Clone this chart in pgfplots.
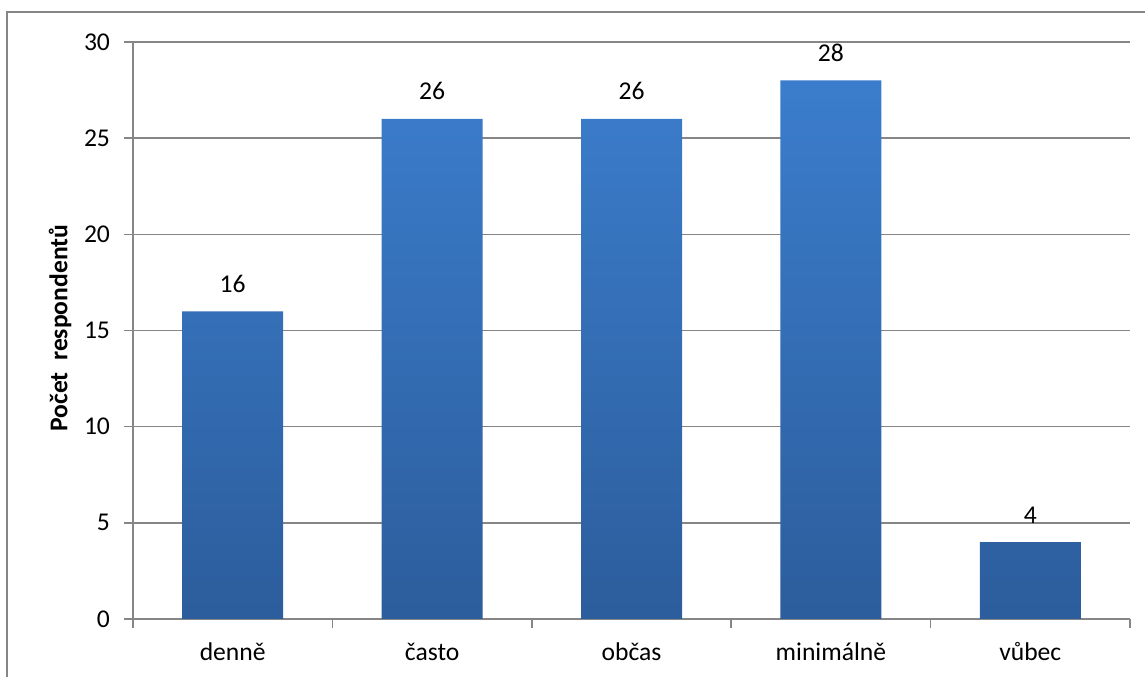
\documentclass[border=0pt]{standalone}
\usepackage{fontspec}
\setmainfont{Carlito}
\usepackage{pgfplots}
\pgfplotsset{compat=1.18}
\definecolor{gridgray}{RGB}{134,134,134}
\definecolor{bartop}{RGB}{59,125,204}
\definecolor{barbot}{RGB}{44,93,156}
\newcommand{\chartfont}{\fontsize{12.8bp}{15bp}\selectfont}
\begin{document}
\begin{tikzpicture}
\useasboundingbox (0bp,0bp) rectangle (572.5bp,338.5bp);
% outer chart frame
\draw[gridgray, line width=0.75bp] (3.5bp,-10bp) -- (3.5bp,332.5bp) -- (590bp,332.5bp);
\begin{axis}[
  at={(66.5bp,29bp)}, anchor=south west,
  scale only axis, width=498.5bp, height=288.5bp,
  xmin=-0.5, xmax=4.5, ymin=0, ymax=30,
  /pgf/number format/assume math mode=true,
  axis x line*=bottom, axis y line*=left,
  axis line style={gridgray, line width=0.75bp},
  ytick={0,5,...,30},
  ymajorgrids, grid style={gridgray, line width=0.75bp},
  tick align=outside, major tick length=4.5bp,
  tick style={gridgray, line width=0.75bp},
  xtick={-0.5,0.5,...,4.5}, xticklabels={},
  extra x ticks={0,1,2,3,4},
  extra x tick labels={denně,často,občas,minimálně,vůbec},
  extra x tick style={major tick length=0pt, grid=none},
  xticklabel style={font=\chartfont, anchor=base, yshift=-20.5bp},
  yticklabel style={font=\chartfont, anchor=east, xshift=-3.5bp},
  ylabel={Počet\ \ respondentů},
  every axis y label/.style={at={(axis description cs:-0.0732,0.504)}, rotate=90, anchor=center,
    font=\chartfont\bfseries},
  ybar, bar width=50.5bp,
  nodes near coords,
  every node near coord/.append style={font=\chartfont, color=black, anchor=base, yshift=9.5bp},
]
\addplot[draw=none, top color=bartop, bottom color=barbot]
  coordinates {(0,16) (1,26) (2,26) (3,28) (4,4)};
\end{axis}
\end{tikzpicture}
\end{document}
